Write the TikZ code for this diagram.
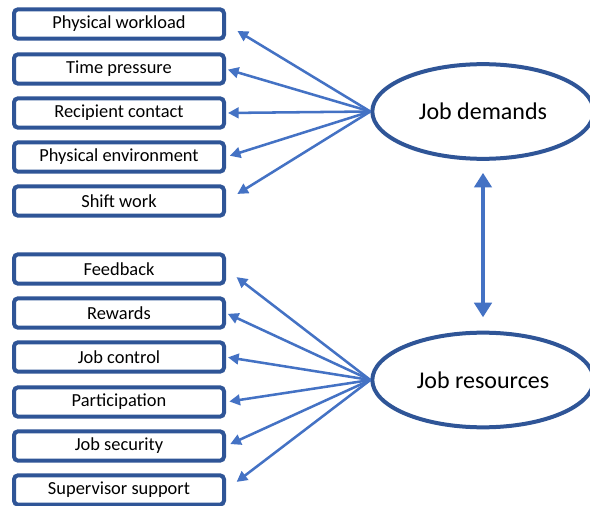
\documentclass[tikz,border=0pt]{standalone}
\usepackage{fontspec}
\setmainfont{Carlito}
\usepackage{tikz}
\usetikzlibrary{arrows.meta,shapes.geometric}
\definecolor{boxblue}{RGB}{47,85,151}
\definecolor{arrowblue}{RGB}{68,114,196}

\begin{document}
\begin{tikzpicture}[x=0.75pt, y=-0.75pt,
    factor/.style={draw=boxblue, line width=3pt, rounded corners=3pt, fill=white,
      minimum width=157.5pt, minimum height=22pt, inner sep=0pt, font=\fontsize{13.8}{16}\selectfont},
    latent/.style={ellipse, draw=boxblue, line width=3pt, fill=white,
      minimum width=166pt, minimum height=71pt, inner sep=0pt, font=\fontsize{18}{21}\selectfont},
    link/.style={draw=arrowblue, line width=1.9pt, -{Triangle[length=8pt,width=8pt]}},
    corr/.style={draw=arrowblue, line width=3.5pt, {Triangle[length=11pt,width=13pt]}-{Triangle[length=11pt,width=13pt]}}]
  \useasboundingbox (0,0) rectangle (590,506);

  % Demands
  \node[factor] (PW) at (119,24) {Physical workload};
  \node[factor] (TP) at (119,69) {Time pressure};
  \node[factor] (RC) at (119,113) {Recipient contact};
  \node[factor] (PE) at (119,157) {Physical environment};
  \node[factor] (SW) at (119,201) {Shift work};

  % Resources
  \node[factor] (FB) at (119,269) {Feedback};
  \node[factor] (RW) at (119,313) {Rewards};
  \node[factor] (JC) at (119,357) {Job control};
  \node[factor] (PA) at (119,402) {Participation};
  \node[factor] (JS) at (119,446) {Job security};
  \node[factor] (SS) at (119,490) {Supervisor support};

  % Latent factors
  \node[latent] (JD) at (483,111.5) {Job demands};
  \node[latent] (JR) at (483,380) {Job resources};

  % Loadings
  \draw[link, shorten >=10pt] (JD.west) -- (PW.east);
  \draw[link, shorten >=1.5pt] (JD.west) -- (TP.east);
  \draw[link, shorten >=1.5pt] (JD.west) -- (RC.east);
  \draw[link, shorten >=3pt] (JD.west) -- (PE.east);
  \draw[link, shorten >=10pt] (JD.west) -- (SW.east);

  \draw[link, shorten >=10pt] (JR.west) -- (FB.east);
  \draw[link, shorten >=1.5pt] (JR.west) -- (RW.east);
  \draw[link, shorten >=1.5pt] (JR.west) -- (JC.east);
  \draw[link, shorten >=2.5pt] (JR.west) -- (PA.east);
  \draw[link, shorten >=3.5pt] (JR.west) -- (JS.east);
  \draw[link, shorten >=10pt] (JR.west) -- (SS.east);

  % Correlation
  \draw[corr, shorten <=9pt, shorten >=10pt] (JD.south) -- (JR.north);
\end{tikzpicture}
\end{document}
